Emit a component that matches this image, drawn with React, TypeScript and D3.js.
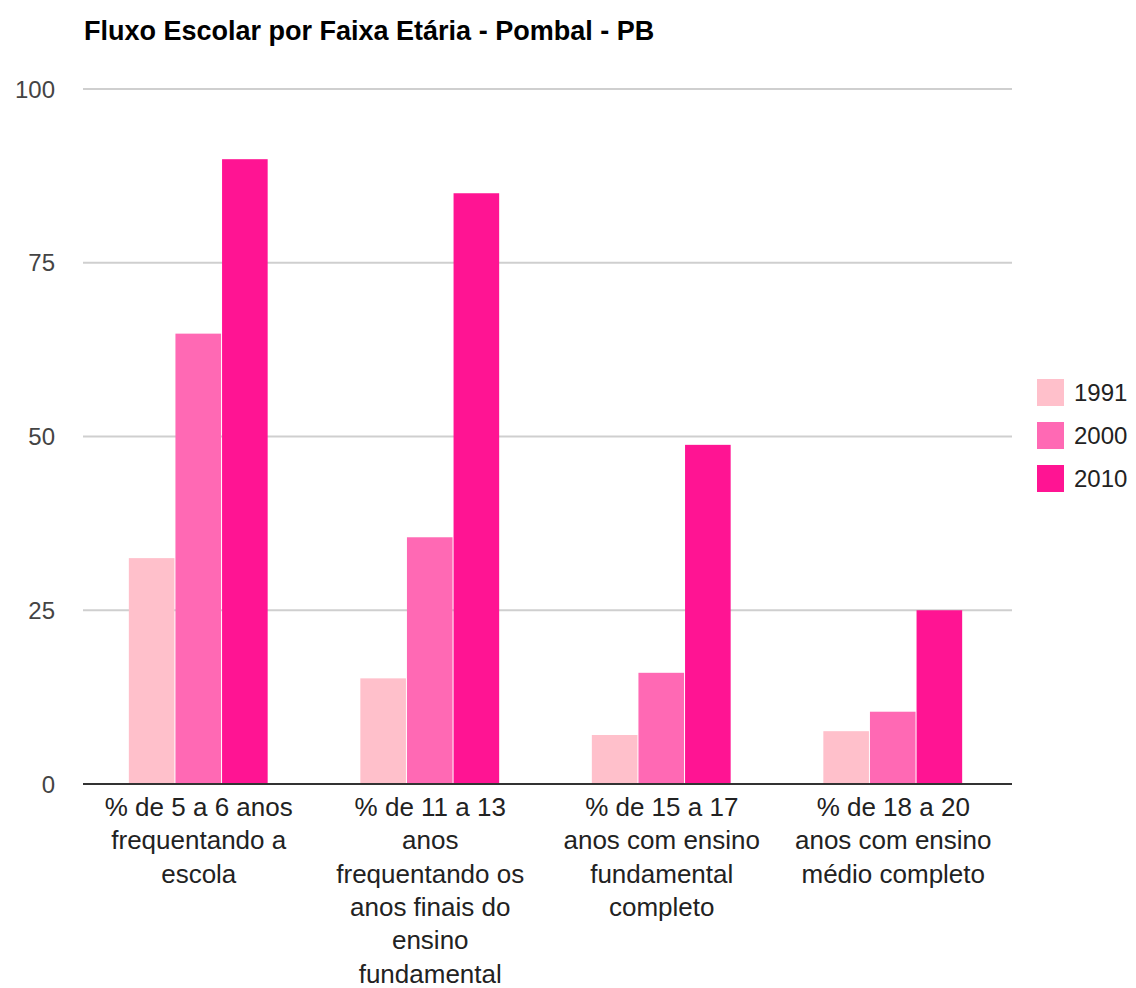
import { useEffect, useRef } from "react"
import * as d3 from "d3"

const title = "Fluxo Escolar por Faixa Etária - Pombal - PB"
const categories = ["5a6", "11a13", "15a17", "18a20"]
const categoryLines = [
  ["% de 5 a 6 anos", "frequentando a", "escola"],
  ["% de 11 a 13", "anos", "frequentando os", "anos finais do", "ensino", "fundamental"],
  ["% de 15 a 17", "anos com ensino", "fundamental", "completo"],
  ["% de 18 a 20", "anos com ensino", "médio completo"],
]
const seriesNames = ["1991", "2000", "2010"]
const seriesColors = ["#ffc0cb", "#ff69b4", "#ff1493"]
const values1991 = [32.5, 15.2, 7.05, 7.6]
const values2000 = [64.8, 35.5, 16.0, 10.4]
const values2010 = [89.9, 85.0, 48.8, 25.0]
const yTicks = [0, 25, 50, 75, 100]

export default function App() {
  const svgRef = useRef<SVGSVGElement>(null)

  useEffect(() => {
    if (!svgRef.current) return
    const svg = d3.select(svgRef.current)
    svg.selectAll("*").remove()

    const W = 1136
    const H = 988
    const left = 83
    const right = 1009
    const top = 89
    const bottom = 784
    const font = "Liberation Sans, Arial, sans-serif"

    svg.attr("width", W).attr("height", H)

    const series = [values1991, values2000, values2010]

    const x0 = d3.scaleBand().domain(categories).range([left, right])
    const x1 = d3
      .scaleBand()
      .domain(seriesNames)
      .range([x0.bandwidth() * 0.198, x0.bandwidth() * 0.802])
    const y = d3.scaleLinear().domain([0, 100]).range([bottom, top])

    // title
    svg
      .append("text")
      .attr("x", 84)
      .attr("y", 40)
      .attr("font-family", font)
      .attr("font-weight", "bold")
      .attr("font-size", 27)
      .attr("fill", "#000")
      .text(title)

    // gridlines
    svg
      .append("g")
      .selectAll("line")
      .data(yTicks.filter((t) => t > 0))
      .join("line")
      .attr("x1", left)
      .attr("x2", 1012)
      .attr("y1", (d) => y(d))
      .attr("y2", (d) => y(d))
      .attr("stroke", "#cfcfcf")
      .attr("stroke-width", 2)

    // y labels
    svg
      .append("g")
      .selectAll("text")
      .data(yTicks)
      .join("text")
      .attr("x", 55)
      .attr("y", (d) => y(d))
      .attr("dy", "0.36em")
      .attr("text-anchor", "end")
      .attr("font-family", font)
      .attr("font-size", 24)
      .attr("fill", "#444")
      .text((d) => d)

    // bars
    const groups = svg
      .append("g")
      .selectAll("g")
      .data(categories)
      .join("g")
      .attr("transform", (c) => `translate(${x0(c)},0)`)

    groups
      .selectAll("rect")
      .data((_, i) => seriesNames.map((s, j) => ({ s, v: series[j][i], j })))
      .join("rect")
      .attr("x", (d) => x1(d.s)!)
      .attr("y", (d) => y(d.v))
      .attr("width", x1.bandwidth() - 1)
      .attr("height", (d) => y(0) - y(d.v))
      .attr("fill", (d) => seriesColors[d.j])

    // baseline
    svg
      .append("line")
      .attr("x1", left)
      .attr("x2", 1012)
      .attr("y1", bottom)
      .attr("y2", bottom)
      .attr("stroke", "#333")
      .attr("stroke-width", 2)

    // x labels
    const labels = svg
      .append("g")
      .selectAll("text")
      .data(categories)
      .join("text")
      .attr("x", (c) => x0(c)! + x0.bandwidth() / 2)
      .attr("y", 816)
      .attr("text-anchor", "middle")
      .attr("font-family", font)
      .attr("font-size", 26)
      .attr("fill", "#222")

    labels
      .selectAll("tspan")
      .data((_, i) => categoryLines[i])
      .join("tspan")
      .attr("x", function () {
        return (this.parentNode as SVGTextElement).getAttribute("x")
      })
      .attr("dy", (_, i) => (i === 0 ? 0 : 33.3))
      .text((d) => d)

    // legend
    const legend = svg
      .append("g")
      .selectAll("g")
      .data(seriesNames)
      .join("g")
      .attr("transform", (_, i) => `translate(1037,${379 + i * 43})`)

    legend
      .append("rect")
      .attr("width", 27)
      .attr("height", 27)
      .attr("fill", (_, i) => seriesColors[i])

    legend
      .append("text")
      .attr("x", 37)
      .attr("y", 13.5)
      .attr("dy", "0.36em")
      .attr("font-family", font)
      .attr("font-size", 24)
      .attr("fill", "#222")
      .text((d) => d)
  }, [])

  return (
    <svg
      ref={svgRef}
      style={{ position: "absolute", left: 0, top: 0, background: "#fff" }}
    ></svg>
  )
}
